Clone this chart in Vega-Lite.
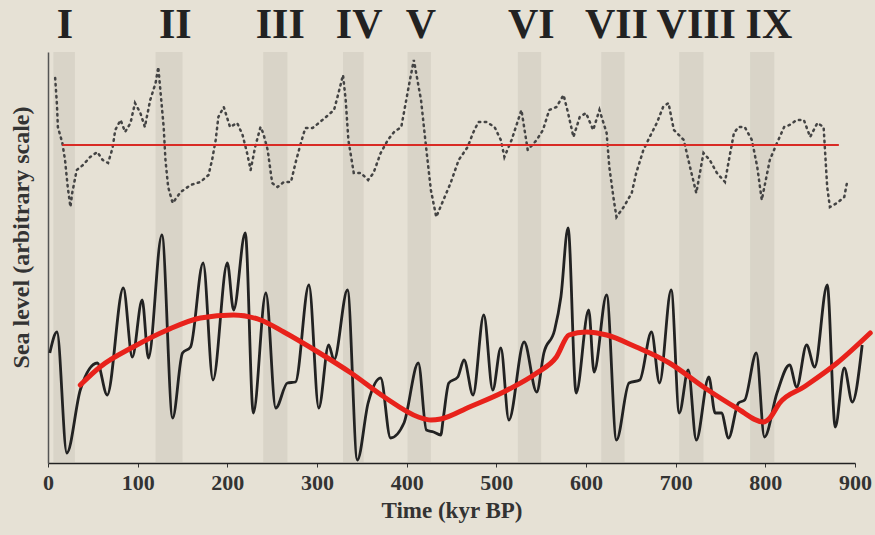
{
  "$schema": "https://vega.github.io/schema/vega-lite/v6.json",
  "width": 807,
  "height": 411,
  "autosize": "none",
  "padding": {"left": 48, "top": 52, "right": 20, "bottom": 72},
  "background": "#e6e1d5",
  "config": {
    "view": {"stroke": null},
    "font": "Liberation Serif",
    "axis": {"grid": false}
  },
  "datasets": {
    "bands": [
      {"name": "I", "t": 6, "t2": 30},
      {"name": "II", "t": 120, "t2": 150},
      {"name": "III", "t": 240, "t2": 267},
      {"name": "IV", "t": 329, "t2": 352},
      {"name": "V", "t": 401, "t2": 427},
      {"name": "VI", "t": 524, "t2": 550},
      {"name": "VII", "t": 617, "t2": 643},
      {"name": "VIII", "t": 704, "t2": 731},
      {"name": "IX", "t": 783, "t2": 810}
    ],
    "labels": [
      {"name": "I", "t": 19, "v": 437},
      {"name": "II", "t": 142, "v": 437},
      {"name": "III", "t": 259, "v": 437},
      {"name": "IV", "t": 347, "v": 437},
      {"name": "V", "t": 416, "v": 437},
      {"name": "VI", "t": 539, "v": 437},
      {"name": "VII", "t": 634, "v": 437},
      {"name": "VIII", "t": 723, "v": 437},
      {"name": "IX", "t": 804, "v": 437}
    ],
    "ref": [{"t": 16, "t2": 882, "v": 317}],
    "upper": [
      {"t": 8, "v": 384}, {"t": 10, "v": 357}, {"t": 11, "v": 335}, {"t": 16, "v": 319}, {"t": 19, "v": 302},
      {"t": 22, "v": 275}, {"t": 25, "v": 255}, {"t": 27, "v": 269}, {"t": 32, "v": 292}, {"t": 39, "v": 297},
      {"t": 47, "v": 305}, {"t": 55, "v": 310}, {"t": 61, "v": 302}, {"t": 67, "v": 299}, {"t": 72, "v": 314},
      {"t": 75, "v": 332}, {"t": 81, "v": 342}, {"t": 86, "v": 330}, {"t": 92, "v": 339}, {"t": 97, "v": 359},
      {"t": 103, "v": 349}, {"t": 108, "v": 335}, {"t": 114, "v": 362}, {"t": 120, "v": 379}, {"t": 123, "v": 395},
      {"t": 129, "v": 335}, {"t": 131, "v": 302}, {"t": 134, "v": 275}, {"t": 139, "v": 259}, {"t": 148, "v": 270},
      {"t": 159, "v": 277}, {"t": 170, "v": 280}, {"t": 179, "v": 287}, {"t": 183, "v": 302}, {"t": 187, "v": 322},
      {"t": 190, "v": 345}, {"t": 196, "v": 355}, {"t": 203, "v": 335}, {"t": 211, "v": 339}, {"t": 217, "v": 327},
      {"t": 222, "v": 309}, {"t": 226, "v": 292}, {"t": 231, "v": 315}, {"t": 237, "v": 335}, {"t": 240, "v": 329},
      {"t": 245, "v": 312}, {"t": 250, "v": 279}, {"t": 256, "v": 275}, {"t": 263, "v": 280}, {"t": 271, "v": 280},
      {"t": 276, "v": 299}, {"t": 282, "v": 319}, {"t": 287, "v": 334}, {"t": 295, "v": 334}, {"t": 302, "v": 339},
      {"t": 310, "v": 345}, {"t": 319, "v": 352}, {"t": 324, "v": 369}, {"t": 329, "v": 387}, {"t": 332, "v": 362},
      {"t": 335, "v": 322}, {"t": 341, "v": 289}, {"t": 349, "v": 289}, {"t": 357, "v": 282}, {"t": 363, "v": 289},
      {"t": 371, "v": 309}, {"t": 379, "v": 322}, {"t": 386, "v": 330}, {"t": 394, "v": 335}, {"t": 403, "v": 379},
      {"t": 408, "v": 402}, {"t": 416, "v": 362}, {"t": 422, "v": 312}, {"t": 427, "v": 272}, {"t": 433, "v": 245},
      {"t": 441, "v": 262}, {"t": 449, "v": 279}, {"t": 458, "v": 302}, {"t": 468, "v": 315}, {"t": 474, "v": 329},
      {"t": 480, "v": 340}, {"t": 489, "v": 340}, {"t": 498, "v": 335}, {"t": 505, "v": 322}, {"t": 509, "v": 305},
      {"t": 517, "v": 322}, {"t": 528, "v": 352}, {"t": 535, "v": 312}, {"t": 545, "v": 322}, {"t": 552, "v": 332},
      {"t": 559, "v": 352}, {"t": 567, "v": 355}, {"t": 575, "v": 367}, {"t": 580, "v": 349}, {"t": 586, "v": 325},
      {"t": 593, "v": 345}, {"t": 600, "v": 349}, {"t": 608, "v": 332}, {"t": 615, "v": 352}, {"t": 623, "v": 329},
      {"t": 626, "v": 295}, {"t": 631, "v": 262}, {"t": 634, "v": 245}, {"t": 642, "v": 255}, {"t": 651, "v": 269},
      {"t": 656, "v": 289}, {"t": 664, "v": 312}, {"t": 671, "v": 325}, {"t": 679, "v": 339}, {"t": 686, "v": 355},
      {"t": 692, "v": 359}, {"t": 698, "v": 332}, {"t": 709, "v": 322}, {"t": 716, "v": 295}, {"t": 723, "v": 269},
      {"t": 731, "v": 309}, {"t": 738, "v": 302}, {"t": 746, "v": 289}, {"t": 755, "v": 280}, {"t": 760, "v": 305},
      {"t": 765, "v": 329}, {"t": 770, "v": 335}, {"t": 777, "v": 335}, {"t": 785, "v": 322}, {"t": 791, "v": 295},
      {"t": 796, "v": 262}, {"t": 805, "v": 302}, {"t": 813, "v": 319}, {"t": 821, "v": 335}, {"t": 827, "v": 337},
      {"t": 835, "v": 342}, {"t": 843, "v": 342}, {"t": 850, "v": 325}, {"t": 858, "v": 339}, {"t": 865, "v": 335},
      {"t": 867, "v": 305}, {"t": 869, "v": 275}, {"t": 872, "v": 255}, {"t": 880, "v": 259}, {"t": 888, "v": 265},
      {"t": 891, "v": 279}
    ],
    "lower": [
      {"t": 2, "v": 109}, {"t": 10, "v": 130}, {"t": 21, "v": 9}, {"t": 36, "v": 72}, {"t": 55, "v": 99},
      {"t": 66, "v": 67}, {"t": 84, "v": 174}, {"t": 94, "v": 105}, {"t": 105, "v": 162}, {"t": 112, "v": 104},
      {"t": 127, "v": 227}, {"t": 139, "v": 44}, {"t": 150, "v": 109}, {"t": 159, "v": 115}, {"t": 173, "v": 199},
      {"t": 184, "v": 82}, {"t": 200, "v": 199}, {"t": 207, "v": 152}, {"t": 220, "v": 229}, {"t": 229, "v": 49},
      {"t": 243, "v": 169}, {"t": 254, "v": 54}, {"t": 267, "v": 79}, {"t": 276, "v": 80}, {"t": 291, "v": 177},
      {"t": 302, "v": 54}, {"t": 313, "v": 117}, {"t": 319, "v": 102}, {"t": 334, "v": 172}, {"t": 345, "v": 2},
      {"t": 357, "v": 59}, {"t": 371, "v": 84}, {"t": 382, "v": 24}, {"t": 397, "v": 39}, {"t": 413, "v": 99},
      {"t": 422, "v": 32}, {"t": 430, "v": 30}, {"t": 438, "v": 27}, {"t": 441, "v": 45}, {"t": 447, "v": 79},
      {"t": 457, "v": 85}, {"t": 464, "v": 102}, {"t": 474, "v": 67}, {"t": 486, "v": 147}, {"t": 496, "v": 72},
      {"t": 505, "v": 114}, {"t": 514, "v": 42}, {"t": 531, "v": 120}, {"t": 545, "v": 70}, {"t": 553, "v": 109},
      {"t": 565, "v": 132}, {"t": 572, "v": 165}, {"t": 580, "v": 234}, {"t": 589, "v": 69}, {"t": 603, "v": 152},
      {"t": 609, "v": 90}, {"t": 623, "v": 167}, {"t": 634, "v": 22}, {"t": 648, "v": 79}, {"t": 660, "v": 82},
      {"t": 673, "v": 130}, {"t": 682, "v": 79}, {"t": 695, "v": 172}, {"t": 704, "v": 49}, {"t": 714, "v": 92},
      {"t": 723, "v": 22}, {"t": 737, "v": 85}, {"t": 744, "v": 49}, {"t": 751, "v": 49}, {"t": 759, "v": 24},
      {"t": 770, "v": 59}, {"t": 777, "v": 62}, {"t": 790, "v": 109}, {"t": 799, "v": 25}, {"t": 813, "v": 69},
      {"t": 827, "v": 97}, {"t": 835, "v": 75}, {"t": 846, "v": 117}, {"t": 855, "v": 95}, {"t": 869, "v": 177},
      {"t": 878, "v": 35}, {"t": 888, "v": 94}, {"t": 897, "v": 60}, {"t": 908, "v": 117}
    ],
    "trend": [
      {"t": 36, "v": 77}, {"t": 58, "v": 95}, {"t": 95, "v": 115}, {"t": 133, "v": 132}, {"t": 170, "v": 144},
      {"t": 207, "v": 147}, {"t": 237, "v": 142}, {"t": 263, "v": 130}, {"t": 301, "v": 110}, {"t": 338, "v": 89},
      {"t": 375, "v": 65}, {"t": 413, "v": 45}, {"t": 427, "v": 42}, {"t": 438, "v": 43}, {"t": 470, "v": 55},
      {"t": 508, "v": 70}, {"t": 545, "v": 89}, {"t": 567, "v": 105}, {"t": 581, "v": 127}, {"t": 600, "v": 130},
      {"t": 623, "v": 127}, {"t": 656, "v": 115}, {"t": 693, "v": 99}, {"t": 731, "v": 75}, {"t": 768, "v": 54},
      {"t": 798, "v": 40}, {"t": 805, "v": 44}, {"t": 816, "v": 59}, {"t": 843, "v": 75}, {"t": 880, "v": 99},
      {"t": 917, "v": 129}
    ]
  },
  "layer": [
    {
      "data": {"name": "bands"},
      "mark": {"type": "rect", "color": "#b3aea5", "opacity": 0.25},
      "encoding": {
        "x": {
          "field": "t", "type": "quantitative",
          "scale": {"domain": [0, 900], "nice": false, "zero": false},
          "axis": {
            "values": [0, 100, 200, 300, 400, 500, 600, 700, 800, 900],
            "title": "Time (kyr BP)",
            "labelFont": "Liberation Serif", "labelFontSize": 22, "labelFontWeight": "bold", "labelColor": "#333",
            "labelPadding": 5, "labelFlush": false,
            "tickColor": "#333", "tickSize": 4,
            "domainColor": "#222", "domainWidth": 1.5,
            "titleFont": "Liberation Serif", "titleFontSize": 23, "titleFontWeight": "bold", "titleColor": "#333",
            "titlePadding": 6
          }
        },
        "x2": {"field": "t2"}
      }
    },
    {
      "data": {"name": "upper"},
      "mark": {"type": "line", "color": "#444", "strokeWidth": 2.5, "strokeDash": [1.5, 4.5], "strokeCap": "round"},
      "encoding": {
        "x": {"field": "t", "type": "quantitative", "title": "Time (kyr BP)"},
        "y": {
          "field": "v", "type": "quantitative", "title": "Sea level (arbitrary scale)",
          "scale": {"domain": [-1, 410], "nice": false, "zero": false},
          "axis": {
            "labels": false, "ticks": false, "domain": true, "domainColor": "#555", "domainWidth": 1.5,
            "titleFont": "Liberation Serif", "titleFontSize": 24, "titleFontWeight": "bold", "titleColor": "#333",
            "titlePadding": 15, "titleY": 185
          }
        }
      }
    },
    {
      "data": {"name": "ref"},
      "mark": {"type": "rule", "color": "#d92b25", "strokeWidth": 2},
      "encoding": {
        "x": {"field": "t", "type": "quantitative", "title": "Time (kyr BP)"},
        "x2": {"field": "t2"},
        "y": {"field": "v", "type": "quantitative", "title": "Sea level (arbitrary scale)"}
      }
    },
    {
      "data": {"name": "lower"},
      "mark": {"type": "line", "color": "#222", "strokeWidth": 2.8, "interpolate": "monotone"},
      "encoding": {
        "x": {"field": "t", "type": "quantitative", "title": "Time (kyr BP)"},
        "y": {"field": "v", "type": "quantitative", "title": "Sea level (arbitrary scale)"}
      }
    },
    {
      "data": {"name": "trend"},
      "mark": {"type": "line", "color": "#e8221b", "strokeWidth": 5, "interpolate": "monotone", "strokeCap": "round"},
      "encoding": {
        "x": {"field": "t", "type": "quantitative", "title": "Time (kyr BP)"},
        "y": {"field": "v", "type": "quantitative", "title": "Sea level (arbitrary scale)"}
      }
    },
    {
      "data": {"name": "labels"},
      "mark": {"type": "text", "font": "Liberation Serif", "fontSize": 42, "fontWeight": "bold", "color": "#222", "baseline": "middle", "align": "center"},
      "encoding": {
        "x": {"field": "t", "type": "quantitative", "title": "Time (kyr BP)"},
        "y": {"field": "v", "type": "quantitative", "title": "Sea level (arbitrary scale)"},
        "text": {"field": "name"}
      }
    }
  ]
}
